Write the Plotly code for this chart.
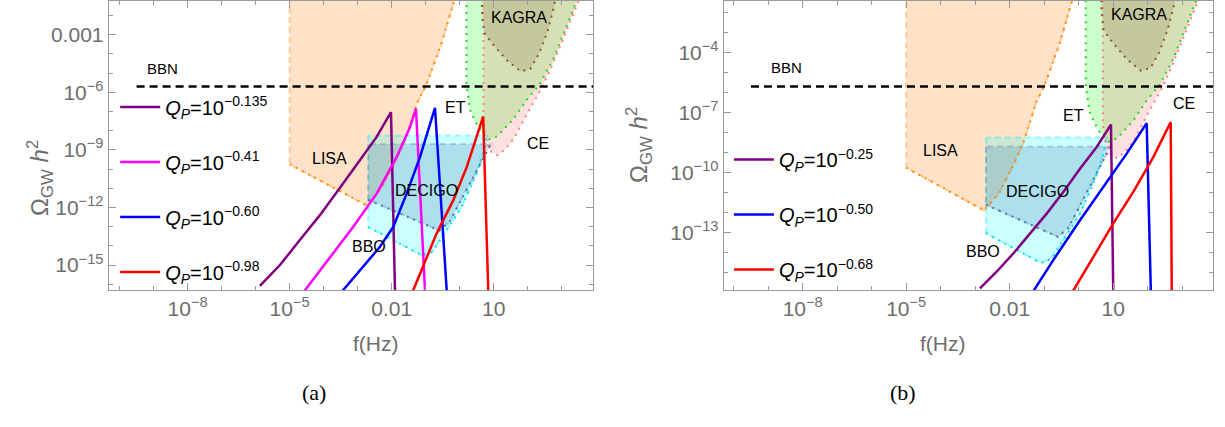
import plotly.graph_objects as go

# ---------------- data (log10 units) ----------------
# detector sensitivity regions (closed polygons, log10 f , log10 Omega h^2)
LISA_logf = [-5.0, -5.0, -2.75, -2.3, -1.9, -1.61, -1.22, -1.0, -0.56, -0.18, 0.05]
LISA_logO = [0.0, -9.75, -11.88, -11.0, -9.63, -8.53, -6.43, -5.69, -3.6, -1.35, 0.0]

BBO_logf = [-2.69, -2.69, -1.1, -0.8, -0.5, 0.05, 0.5, 0.72, 0.82, -2.69]
BBO_logO = [-8.25, -13.02, -14.5, -14.3, -13.5, -12.0, -10.2, -9.0, -8.25, -8.25]

DECIGO_logf = [-2.69, -2.69, -0.6, -0.3, 0.2, 0.6, 0.85, 0.92, -2.69]
DECIGO_logO = [-8.69, -11.6, -13.2, -12.75, -11.1, -9.75, -8.9, -8.69, -8.69]

ET_logf = [0.2, 0.2, 0.3, 0.45, 0.65, 0.87, 1.1, 1.58, 1.97, 2.35, 2.75, 3.14, 3.45, 3.74]
ET_logO = [0.0, -5.6, -6.9, -7.5, -8.1, -8.45, -8.3, -7.4, -6.4, -5.6, -4.27, -2.5, -1.2, 0.0]

CE_logf = [0.7, 0.7, 0.78, 0.93, 1.12, 1.35, 1.6, 2.05, 2.42, 2.72, 3.07, 3.42, 3.78]
CE_logO = [0.0, -7.6, -8.6, -9.1, -9.28, -8.95, -8.4, -6.9, -5.75, -4.6, -3.1, -1.5, 0.0]

KAGRA_logf = [0.63, 0.66, 0.72, 1.0, 1.4, 1.8, 2.08, 2.33, 2.58, 2.78, 2.9]
KAGRA_logO = [0.0, -2.0, -2.9, -3.55, -4.35, -4.92, -4.78, -4.0, -2.85, -1.5, 0.0]

BBN_logf = [-9.5, 4.5]
BBN_logO = [-5.7, -5.7]

# panel (a) spectra
a_labels = ["0.135", "0.41", "0.60", "0.98"]
a_colors = ["#800080", "#ff00ff", "#0000ff", "#ff0000"]
a_logf = [
    [-5.874, -5.285, -4.70, -4.11, -3.52, -2.93, -2.45, -2.02, -1.90],
    [-4.63, -3.815, -3.129, -2.441, -1.853, -1.462, -1.285, -1.015],
    [-3.52, -2.835, -2.344, -1.953, -1.559, -1.168, -0.924, -0.726, -0.375],
    [-1.41, -1.071, -0.676, -0.188, 0.206, 0.647, 0.69, 0.843],
]
a_logO = [
    [-16.09, -15.0, -13.70, -12.40, -10.98, -9.55, -8.35, -7.04, -16.5],
    [-16.5, -14.57, -13.01, -11.28, -9.38, -7.82, -6.86, -16.5],
    [-16.5, -15.09, -14.05, -13.01, -11.28, -9.38, -7.99, -6.81, -16.5],
    [-16.5, -15.09, -13.35, -11.62, -9.9, -7.5, -7.26, -16.5],
]

# panel (b) spectra
b_labels = ["0.25", "0.50", "0.68"]
b_colors = ["#800080", "#0000ff", "#ff0000"]
b_logf = [
    [-2.864, -2.38, -1.899, -1.414, -0.930, -0.449, 0.035, 0.519, 0.933, 1.0],
    [-1.35, -0.739, 0.035, 0.809, 1.388, 1.968, 2.09],
    [-0.2, 0.42, 1.0, 1.58, 2.16, 2.664, 2.695],
]
b_logO = [
    [-15.77, -14.94, -14.03, -13.03, -12.04, -10.96, -9.80, -8.72, -7.60, -16.0],
    [-16.0, -14.36, -12.37, -10.46, -9.05, -7.53, -16.0],
    [-16.0, -14.19, -12.53, -10.96, -9.22, -7.48, -16.0],
]

# region text labels, per panel (log10 f, log10 Omega)
reg_names = ["BBN", "LISA", "DECIGO", "BBO", "ET", "KAGRA", "CE"]
a_lab_f = [-8.73, -3.84, -0.99, -2.67, -0.11, 1.75, 2.3]
a_lab_O = [-4.77, -9.44, -11.11, -14.06, -6.8, -2.12, -8.66]
b_lab_f = [-8.47, -4.02, -1.2, -2.79, -0.14, 1.75, 3.05]
b_lab_O = [-4.76, -8.89, -10.96, -13.95, -7.15, -2.12, -6.57]

# axes
a_xrange = [-10.32, 3.92]
a_yrange = [-16.3, -1.24]
b_xrange = [-10.29, 3.89]
b_yrange = [-15.85, -1.43]
x_tick_logs = [-8, -5, -2, 1]
x_tick_text = ["10<sup>−8</sup>", "10<sup>−5</sup>", "0.01", "10"]
a_ytick_logs = [-3, -6, -9, -12, -15]
a_ytick_text = ["0.001", "10<sup>−6</sup>", "10<sup>−9</sup>", "10<sup>−12</sup>", "10<sup>−15</sup>"]
b_ytick_logs = [-4, -7, -10, -13]
b_ytick_text = ["10<sup>−4</sup>", "10<sup>−7</sup>", "10<sup>−10</sup>", "10<sup>−13</sup>"]

# ---------------- styles ----------------
FONT = "Liberation Sans"
GRAY = "#6e6e6e"
AXC = "#9a9a9a"

regions = [
    # name, f, O, fill, edge, dot color
    ("LISA", LISA_logf, LISA_logO, "rgba(255,140,30,0.25)", "rgba(255,170,90,0.55)", "#ff8c00"),
    ("BBO", BBO_logf, BBO_logO, "rgba(0,255,255,0.2)", "rgba(0,230,240,0.35)", "#00e5ee"),
    ("DECIGO", DECIGO_logf, DECIGO_logO, "rgba(70,130,180,0.25)", "rgba(90,120,170,0.3)", "#5a6fa8"),
    ("ET", ET_logf, ET_logO, "rgba(0,255,0,0.2)", "rgba(0,220,0,0.0)", "#1fdc1f"),
    ("CE", CE_logf, CE_logO, "rgba(255,100,100,0.2)", "rgba(255,120,120,0.0)", "#ff8080"),
    ("KAGRA", KAGRA_logf, KAGRA_logO, "rgba(130,100,50,0.2)", "rgba(140,90,40,0.0)", "#8b5a2b"),
]


def P(v):
    return [10 ** a for a in v]


fig = go.Figure()

for xa, ya in [("x", "y"), ("x2", "y2")]:
    for name, f, O, fillc, edgec, dotc in regions:
        fig.add_trace(go.Scatter(
            x=P(f), y=P(O), xaxis=xa, yaxis=ya, mode="lines", fill="toself",
            fillcolor=fillc, line=dict(color=edgec, width=2, dash="6px,4px"),
            hoverinfo="skip", showlegend=False))
    for name, f, O, fillc, edgec, dotc in regions:
        start = 1 if name in ("LISA", "BBO", "DECIGO") else 0
        end = len(f) - (1 if name in ("BBO", "DECIGO") else 0)
        fig.add_trace(go.Scatter(
            x=P(f[start:end]), y=P(O[start:end]), xaxis=xa, yaxis=ya, mode="lines",
            line=dict(color=dotc, width=2, dash="2px,5px"),
            hoverinfo="skip", showlegend=False))
    fig.add_trace(go.Scatter(
        x=P(BBN_logf), y=P(BBN_logO), xaxis=xa, yaxis=ya, mode="lines",
        line=dict(color="black", width=2.5, dash="8px,5px"),
        hoverinfo="skip", showlegend=False))

for i, (f, O) in enumerate(zip(a_logf, a_logO)):
    fig.add_trace(go.Scatter(
        x=P(f), y=P(O), xaxis="x", yaxis="y", mode="lines",
        line=dict(color=a_colors[i], width=2.5),
        name="<i>Q</i><sub><i>P</i></sub>=10<sup>−" + a_labels[i] + "</sup>",
        legend="legend", legendgroup="a%d" % i))

for i, (f, O) in enumerate(zip(b_logf, b_logO)):
    fig.add_trace(go.Scatter(
        x=P(f), y=P(O), xaxis="x2", yaxis="y2", mode="lines",
        line=dict(color=b_colors[i], width=2.5),
        name="<i>Q</i><sub><i>P</i></sub>=10<sup>−" + b_labels[i] + "</sup>",
        legend="legend2", legendgroup="b%d" % i))

ann = []
for names, lf, lO, xr, yr in [(reg_names, a_lab_f, a_lab_O, "x", "y"), (reg_names, b_lab_f, b_lab_O, "x2", "y2")]:
    for n, fx, oy in zip(names, lf, lO):
        ann.append(dict(x=fx, y=oy, xref=xr, yref=yr, text=n, showarrow=False,
                        font=dict(family=FONT, size=15 if n == "BBN" else 16, color="black")))

# axis titles and captions
for xc, cap_x, cap in [(350.8 / 1225, 300 / 1225, "(a)"), (968 / 1225, 918 / 1225, "(b)")]:
    ann.append(dict(x=xc, y=(427 - 357) / 427, xref="paper", yref="paper", text="f(Hz)",
                    showarrow=False, font=dict(family=FONT, size=21, color=GRAY)))
    ann.append(dict(x=cap_x, y=(427 - 407) / 427, xref="paper", yref="paper", text=cap,
                    showarrow=False, font=dict(family="Liberation Serif", size=22, color="black")))
for xc, yc in [(21 / 1225, (427 - 138) / 427), (639 / 1225, (427 - 145) / 427)]:
    ann.append(dict(x=xc, y=yc, xref="paper", yref="paper", textangle=-90,
                    text="Ω<sub>GW</sub> <i>h</i><sup>2</sup>", showarrow=False,
                    font=dict(family=FONT, size=24, color=GRAY)))


def xaxis(rng, dom, anchor):
    return dict(type="log", range=rng, domain=dom, anchor=anchor,
                showline=True, linecolor=AXC, linewidth=1, mirror="ticks",
                ticks="inside", ticklen=7, tickcolor=AXC,
                tickvals=P(x_tick_logs), ticktext=x_tick_text,
                tickfont=dict(family=FONT, size=21, color=GRAY),
                minor=dict(tickvals=P(list(range(-10, 4))), ticks="inside", ticklen=4, tickcolor=AXC),
                showgrid=False, zeroline=False)


def yaxis(rng, dom, anchor, tv, tt):
    return dict(type="log", range=rng, domain=dom, anchor=anchor,
                showline=True, linecolor=AXC, linewidth=1, mirror="ticks",
                ticks="inside", ticklen=7, tickcolor=AXC,
                tickvals=P(tv), ticktext=tt,
                tickfont=dict(family=FONT, size=21, color=GRAY),
                minor=dict(tickvals=P(list(range(-16, 0))), ticks="inside", ticklen=4, tickcolor=AXC),
                showgrid=False, zeroline=False)


ydom = [(427 - 290) / 427, 0.998]
fig.update_layout(
    width=1225, height=427, margin=dict(l=0, r=0, t=0, b=0, autoexpand=False),
    paper_bgcolor="white", plot_bgcolor="white",
    font=dict(family=FONT),
    xaxis=xaxis(a_xrange, [108.7 / 1225, 593 / 1225], "y"),
    yaxis=yaxis(a_yrange, ydom, "x", a_ytick_logs, a_ytick_text),
    xaxis2=xaxis(b_xrange, [723.7 / 1225, 1213 / 1225], "y2"),
    yaxis2=yaxis(b_yrange, ydom, "x2", b_ytick_logs, b_ytick_text),
    legend=dict(x=0.094, y=0.795, xanchor="left", yanchor="top", bgcolor="rgba(0,0,0,0)",
                font=dict(family=FONT, size=20, color="black"), traceorder="grouped",
                tracegroupgap=26, itemwidth=40),
    legend2=dict(x=0.595, y=0.672, xanchor="left", yanchor="top", bgcolor="rgba(0,0,0,0)",
                 font=dict(family=FONT, size=20, color="black"), traceorder="grouped",
                 tracegroupgap=26, itemwidth=40),
    annotations=ann,
)

fig.write_html("out.html", config={"displayModeBar": False},
               post_script="document.body.style.margin='0px';document.body.style.overflow='hidden';")
